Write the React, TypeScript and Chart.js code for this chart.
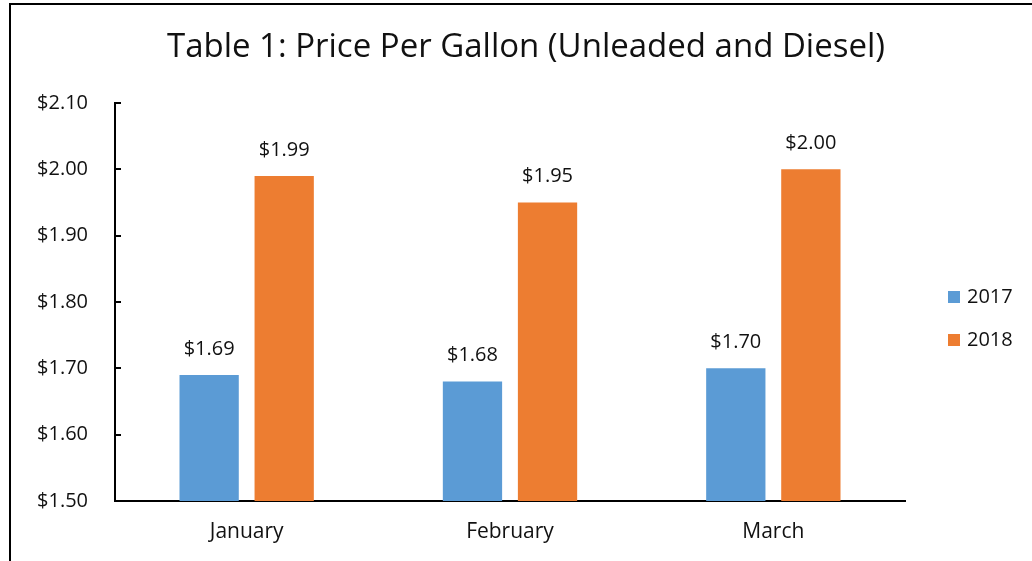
import React, { useEffect, useRef } from "react";
import { Chart, registerables } from "chart.js";

Chart.register(...registerables);

const months = ["January", "February", "March"];
const price2017 = [1.69, 1.68, 1.7];
const price2018 = [1.99, 1.95, 2.0];
const seriesNames = ["2017", "2018"];
const seriesColors = ["#5B9BD5", "#ED7D31"];
const titleText = "Table 1: Price Per Gallon (Unleaded and Diesel)";

const FONT = "'Open Sans', 'Noto Sans', sans-serif";

const extrasPlugin = {
  id: "extras",
  afterDraw(chart: any) {
    const ctx = chart.ctx;
    const area = chart.chartArea;
    const yScale = chart.scales.y;
    ctx.save();
    // title
    ctx.fillStyle = "#111";
    ctx.font = `33px ${FONT}`;
    ctx.textAlign = "center";
    ctx.textBaseline = "middle";
    ctx.fillText(titleText, 526, 48);
    // inside ticks on y axis
    ctx.strokeStyle = "#000";
    ctx.lineWidth = 2;
    yScale.ticks.forEach((t: any) => {
      const y = Math.round(yScale.getPixelForValue(t.value));
      ctx.beginPath();
      ctx.moveTo(area.left, y);
      ctx.lineTo(area.left + 6, y);
      ctx.stroke();
    });
    // data labels
    ctx.font = `20px ${FONT}`;
    ctx.fillStyle = "#111";
    chart.data.datasets.forEach((ds: any, di: number) => {
      const meta = chart.getDatasetMeta(di);
      meta.data.forEach((bar: any, i: number) => {
        ctx.fillText("$" + Number(ds.data[i]).toFixed(2), bar.x, bar.y - 26);
      });
    });
    // legend
    ctx.font = `20px ${FONT}`;
    ctx.textAlign = "left";
    const legendY = [297, 340];
    seriesNames.forEach((n, i) => {
      ctx.fillStyle = seriesColors[i];
      ctx.fillRect(948, legendY[i] - 6, 12, 12);
      ctx.fillStyle = "#111";
      ctx.fillText(n, 967, legendY[i]);
    });
    ctx.restore();
  },
};

export default function App() {
  const ref = useRef<HTMLCanvasElement>(null);
  useEffect(() => {
    if (!ref.current) return;
    const chart = new Chart(ref.current, {
      type: "bar",
      data: {
        labels: months,
        datasets: [
          { label: seriesNames[0], data: price2017, backgroundColor: seriesColors[0] },
          { label: seriesNames[1], data: price2018, backgroundColor: seriesColors[1] },
        ],
      },
      options: {
        responsive: false,
        animation: false,
        devicePixelRatio: 1,
        layout: { padding: { top: 103, left: 10, right: 127, bottom: 14 } },
        plugins: {
          legend: { display: false },
          title: { display: false },
          tooltip: { enabled: false },
        },
        datasets: {
          bar: { categoryPercentage: 0.57, barPercentage: 0.79 },
        },
        scales: {
          x: {
            grid: { display: true, drawOnChartArea: false, drawTicks: false },
            border: { display: true, color: "#000", width: 2 },
            ticks: { color: "#111", font: { family: FONT, size: 21 }, padding: 18 },
            afterFit: (s: any) => { s.height = 46; },
          },
          y: {
            min: 1.5,
            max: 2.1,
            grid: { display: true, drawOnChartArea: false, drawTicks: false },
            border: { display: true, color: "#000", width: 2 },
            ticks: {
              stepSize: 0.1,
              color: "#111",
              font: { family: FONT, size: 20 },
              padding: 27,
              callback: (v: any) => "$" + Number(v).toFixed(2),
            },
            afterFit: (s: any) => { s.width = 105; },
          },
        },
      },
      plugins: [extrasPlugin],
    });
    return () => chart.destroy();
  }, []);
  return (
    <div style={{ position: "absolute", left: 0, top: 0, width: 1032, height: 561, background: "#fff" }}>
      <canvas ref={ref} width={1032} height={561} style={{ position: "absolute", left: 0, top: 0 }} />
      <div
        style={{
          position: "absolute",
          left: 9,
          top: 3,
          width: 1032,
          height: 561,
          borderLeft: "2px solid #000",
          borderTop: "2px solid #000",
          pointerEvents: "none",
        }}
      />
    </div>
  );
}
